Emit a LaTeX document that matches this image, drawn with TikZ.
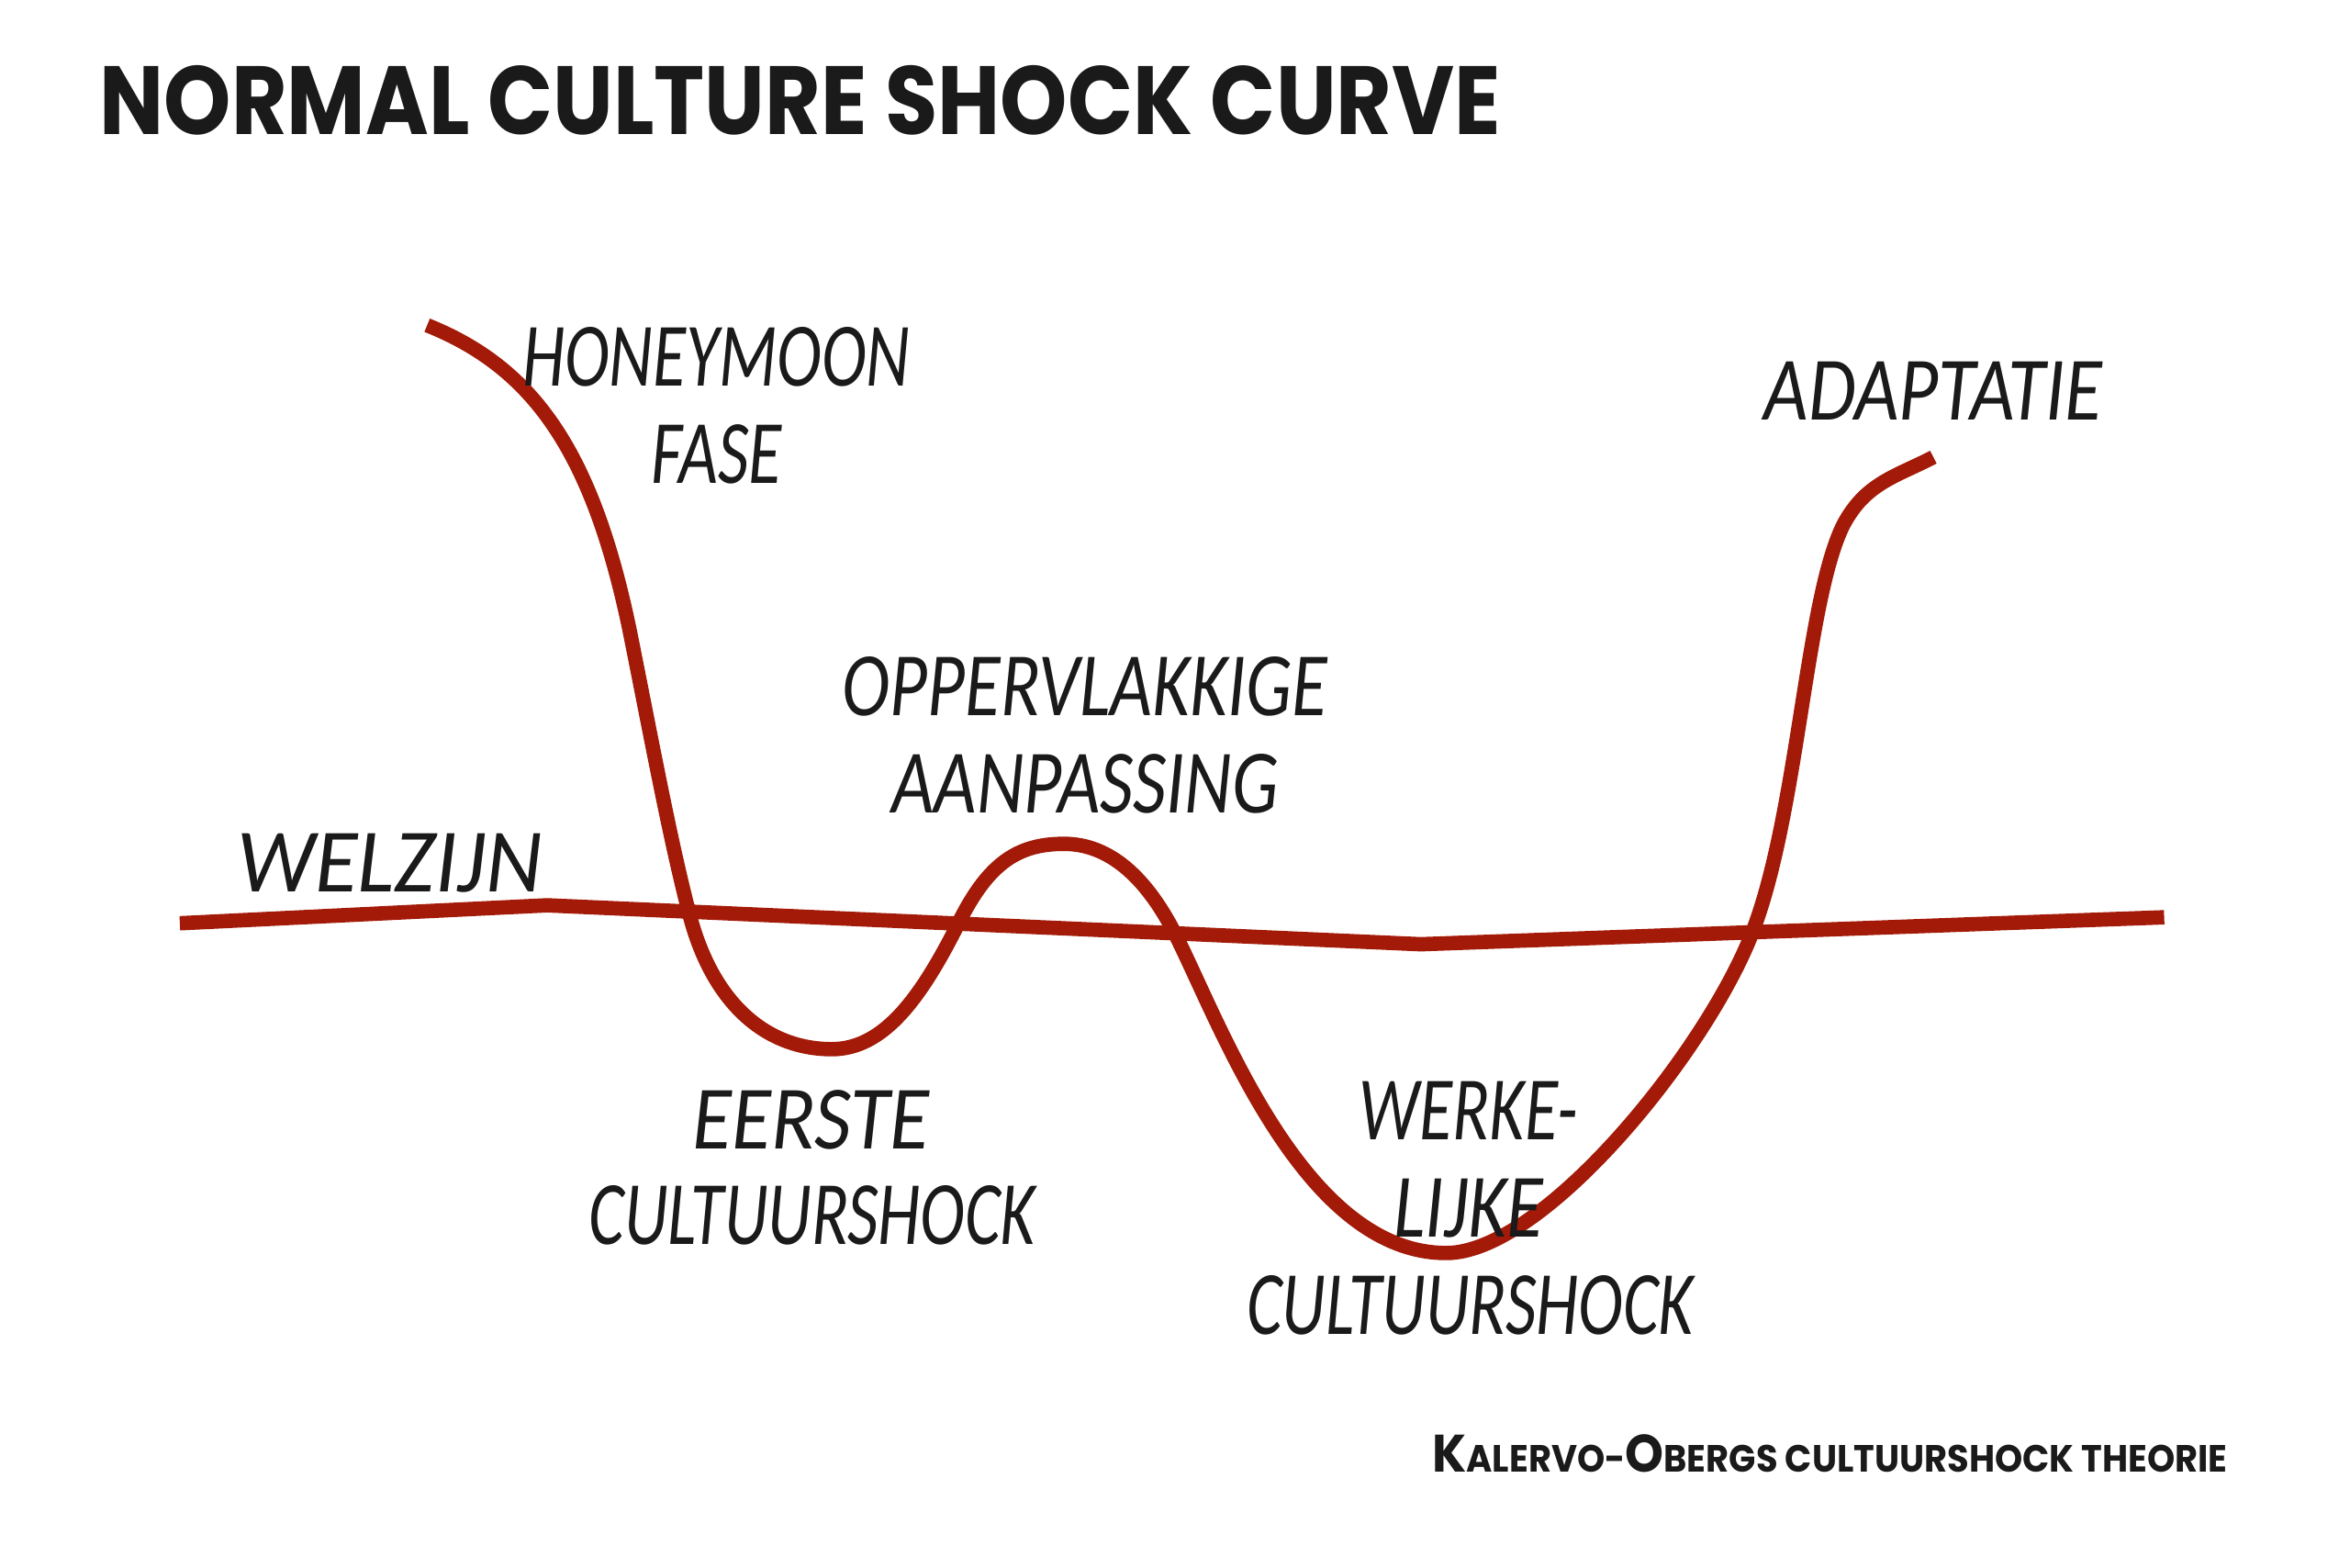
\documentclass[tikz,border=0pt]{standalone}
\usepackage{fontspec}
\setmainfont{Carlito}
\newfontfamily\brushfont{Poppins}
\usetikzlibrary{positioning}
\definecolor{shockred}{RGB}{163,26,8}
\definecolor{inkblack}{RGB}{26,26,26}
\newcommand{\grootletter}[1]{{\fontsize{25}{25}\selectfont #1}}

\begin{document}
\begin{tikzpicture}[x=0.25mm, y=-0.25mm,
  every node/.style={text=inkblack, inner sep=0pt},
  fasetext/.style={font=\fontsize{43}{46}\selectfont\itshape, xscale=0.75},
  redline/.style={draw=shockred, line width=2.4mm, line cap=butt, line join=round}]
  \fill[white] (0,0) rectangle (1568,1046);
  \useasboundingbox (0,0) rectangle (1568,1046);

  % titel en bron
  \node[xscale=0.883] (title) at (534,67) {\brushfont\bfseries\fontsize{46}{46}\selectfont NORMAL CULTURE SHOCK CURVE};
  \node[xscale=0.93] (bron) at (1221,970) {\brushfont\bfseries\fontsize{18}{18}\selectfont \grootletter{K}ALERVO-\grootletter{O}BERGS CULTUURSHOCK THEORIE};

  % welzijn-lijn
  \draw[redline] (120,616) -- (365,604) -- (948,630) -- (1444,612);

  % de curve
  \draw[redline] (285,217) .. controls (355,245) and (395,300) .. (420,420)
    .. controls (435,495) and (447,560) .. (460,610)
    .. controls (475,668) and (510,700) .. (555,700)
    .. controls (590,700) and (615,665) .. (640,615)
    .. controls (660,575) and (680,563) .. (710,563)
    .. controls (740,563) and (765,585) .. (785,625)
    .. controls (815,685) and (870,836) .. (965,836)
    .. controls (1030,836) and (1140,700) .. (1170,620)
    .. controls (1200,540) and (1205,400) .. (1230,350)
    .. controls (1245,322) and (1265,318) .. (1290,305);

  % fasen
  \node[fasetext] (honeymoon) at (478,238) {HONEYMOON};
  \node[fasetext] (fase) at (478,303) {FASE};
  \node[fasetext, xscale=1.13] (adaptatie) at (1290,261) {ADAPTATIE};
  \node[fasetext, xscale=1.07] (opper) at (724,458) {OPPERVLAKKIGE};
  \node[fasetext, xscale=1.08] (aanpassing) at (724,523) {AANPASSING};
  \node[fasetext, xscale=1.29] (welzijn) at (260,576) {WELZIJN};
  \node[fasetext, xscale=1.19] (eerste) at (541,747) {EERSTE};
  \node[fasetext] (shockeen) at (542,811) {CULTUURSHOCK};
  \node[fasetext] (werke) at (980,741) {WERKE-};
  \node[fasetext, xscale=1.1] (lijke) at (980,806) {LIJKE};
  \node[fasetext] (shocktwee) at (981,871) {CULTUURSHOCK};
\end{tikzpicture}
\end{document}
